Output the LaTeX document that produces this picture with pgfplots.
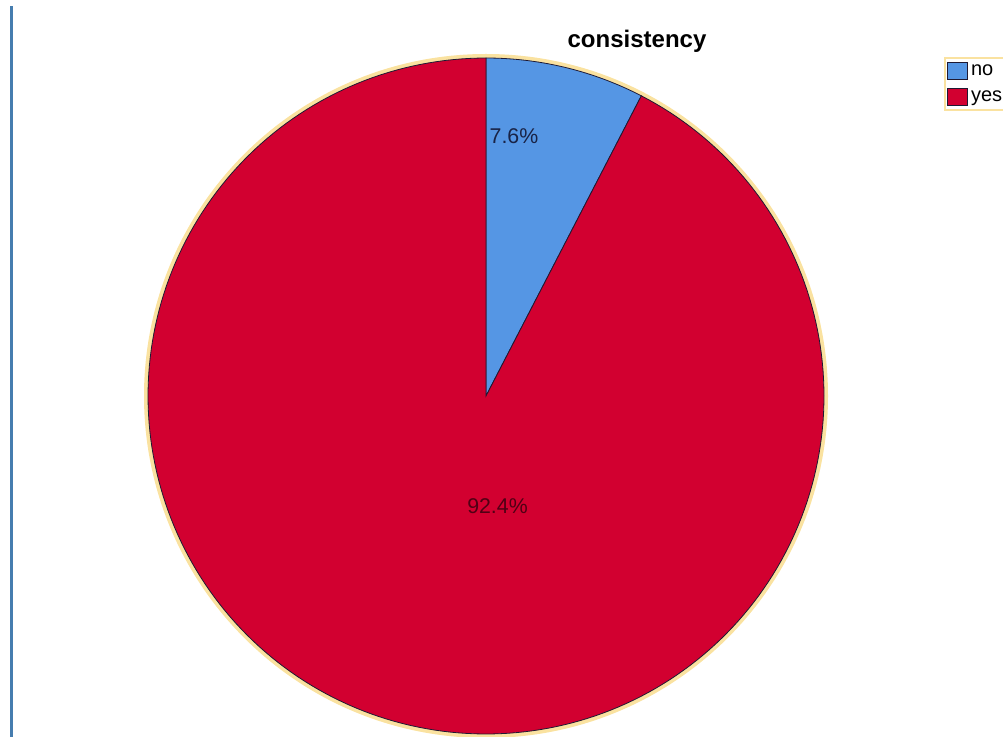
\documentclass[border=0pt]{standalone}
\usepackage{fontspec}
\setmainfont{Liberation Sans}
\usepackage{pgfplots}
\pgfplotsset{compat=1.18}
\usepackage{pgfplotstable}
\definecolor{pieblue}{RGB}{85,150,228}
\definecolor{piered}{RGB}{210,0,48}
\definecolor{halo}{RGB}{250,226,160}
\definecolor{edge}{RGB}{30,25,50}
\definecolor{sidebar}{RGB}{70,125,175}
\definecolor{lblblue}{RGB}{25,35,70}
\definecolor{lblred}{RGB}{80,0,20}

\pgfplotstableread{
label pct
no 7.6
yes 92.4
}\piedata

\begin{document}
\begin{tikzpicture}
\pgfplotstablegetelem{0}{pct}\of\piedata \let\pctno\pgfplotsretval
\pgfplotstablegetelem{1}{pct}\of\piedata \let\pctyes\pgfplotsretval
\pgfmathsetmacro{\angsplit}{90-3.6*\pctno}
\pgfmathsetmacro{\angend}{\angsplit-3.6*\pctyes}
\useasboundingbox (0,0) rectangle (752.25pt,552pt);
\clip (0,0) rectangle (752.25pt,552pt);
\begin{axis}[
  at={(0,0)}, anchor=south west,
  scale only axis, width=752.25pt, height=552pt,
  xmin=0, xmax=1003, ymin=0, ymax=736,
  hide axis, clip=false,
  legend image code/.code={\draw[#1, draw=edge, line width=0.5pt] (0pt,-6.4pt) rectangle (15pt,6.4pt);},
  legend style={at={(axis cs:944,679)}, anchor=north west, draw=halo, line width=1.5pt, fill=white,
    font=\fontsize{15}{17}\selectfont, inner xsep=1.5pt, inner ysep=3pt, row sep=6.5pt,
    cells={anchor=west}, nodes={inner xsep=2.5pt, inner ysep=0pt}},
]
% left frame line
\addplot[sidebar, line width=1.6pt, forget plot] coordinates {(11.5,-5) (11.5,730)};
% halo around pie
\draw[halo, line width=3pt] (axis cs:486,340) circle[radius=340];
% wedges
\addplot[fill=pieblue, draw=edge, line width=0.6pt, domain=\angsplit:90, samples=40]
  ({486+338*cos(x)},{340+338*sin(x)}) -- (axis cs:486,340) -- cycle;
\addlegendentry{no}
\addplot[fill=piered, draw=edge, line width=0.6pt, domain=\angend:\angsplit, samples=240]
  ({486+338*cos(x)},{340+338*sin(x)}) -- (axis cs:486,340) -- cycle;
\addlegendentry{yes}
% labels
\node[font=\fontsize{16}{19}\selectfont, text=lblblue, anchor=base] at (axis cs:514,592) {7.6\%};
\node[font=\fontsize{16}{19}\selectfont, text=lblred, anchor=base] at (axis cs:497.5,223) {92.4\%};
% title
\node[font=\fontsize{18}{22}\selectfont\bfseries, anchor=base] at (axis cs:637,688) {consistency};
\end{axis}
\end{tikzpicture}
\end{document}
